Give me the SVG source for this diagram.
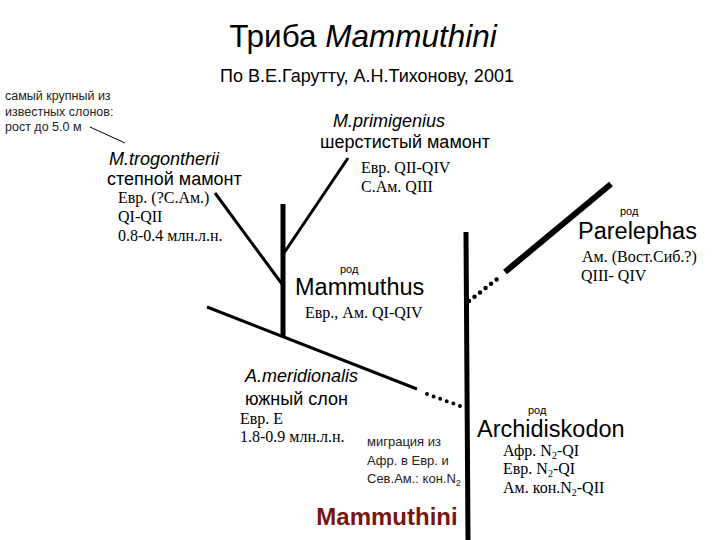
<svg xmlns="http://www.w3.org/2000/svg" width="720" height="540" viewBox="0 0 720 540">
<style>
.s{font-family:"Liberation Sans",Arial,sans-serif;fill:#000}
.g{fill:#222}
.red{fill:#7a1414;font-weight:bold}
.i{font-style:italic}
.r{font-family:"Liberation Serif","Times New Roman",serif;fill:#000;font-size:16px}
.ln{stroke:#000;fill:none;stroke-linecap:butt}
.dot{stroke:#000;fill:none;stroke-linecap:round;stroke-dasharray:0 7}
</style>
<rect width="720" height="540" fill="#fff"/>
<g id="title">
<text class="s" x="363" y="47" font-size="31.5" text-anchor="middle">Триба <tspan class="i">Mammuthini</tspan></text>
<text class="s" x="367" y="82" font-size="18" text-anchor="middle">По В.Е.Гарутту, А.Н.Тихонову, 2001</text>
</g>
<g id="connectors">
<line class="ln" x1="90" y1="127" x2="125" y2="143" stroke-width="1"/>
<line class="ln" x1="283" y1="204" x2="283" y2="337" stroke-width="5"/>
<line class="ln" x1="215" y1="193" x2="282" y2="284" stroke-width="3"/>
<line class="ln" x1="348" y1="158" x2="284" y2="253" stroke-width="3"/>
<line class="ln" x1="207" y1="307" x2="417" y2="389" stroke-width="3"/>
<line class="dot" x1="427" y1="394" x2="463" y2="407" stroke-width="4"/>
<line class="ln" x1="466" y1="232" x2="468" y2="540" stroke-width="5"/>
<line class="dot" x1="469" y1="301" x2="501" y2="276" stroke-width="4.5"/>
<line class="ln" x1="505" y1="272" x2="611" y2="184" stroke-width="6"/>
</g>
<g id="note">
<text class="s g" font-size="12.5"><tspan x="5" y="100">самый крупный из</tspan><tspan x="5" y="116">известных слонов:</tspan><tspan x="5" y="131">рост до 5.0 м</tspan></text>
</g>
<g id="trogontherii">
<text class="s i" x="109" y="165" font-size="18">M.trogontherii</text>
<text class="s" x="107" y="185" font-size="18">степной мамонт</text>
<text class="r" x="118" y="203">Евр. (?С.Ам.)</text>
<text class="r" x="118" y="222">QI-QII</text>
<text class="r" x="118" y="241">0.8-0.4 млн.л.н.</text>
</g>
<g id="primigenius">
<text class="s i" x="333" y="127" font-size="18">M.primigenius</text>
<text class="s" x="320" y="148" font-size="18">шерстистый мамонт</text>
<text class="r" x="361" y="173">Евр.  QII-QIV</text>
<text class="r" x="361" y="192">С.Ам. QIII</text>
</g>
<g id="parelephas">
<text class="s" x="620" y="215" font-size="11">род</text>
<text class="s" x="578" y="239" font-size="23.5">Parelephas</text>
<text class="r" x="582" y="262">Ам. (Вост.Сиб.?)</text>
<text class="r" x="581" y="281">QIII- QIV</text>
</g>
<g id="mammuthus">
<text class="s" x="340" y="273" font-size="11">род</text>
<text class="s" x="295" y="295" font-size="23.5">Mammuthus</text>
<text class="r" x="305" y="318">Евр., Ам. QI-QIV</text>
</g>
<g id="meridionalis">
<text class="s i" x="245" y="382" font-size="18">A.meridionalis</text>
<text class="s" x="245" y="405" font-size="18">южный слон</text>
<text class="r" x="240" y="424">Евр. Е</text>
<text class="r" x="240" y="442">1.8-0.9 млн.л.н.</text>
</g>
<g id="migration">
<text class="s g" font-size="13"><tspan x="367" y="446">миграция из</tspan><tspan x="367" y="465">Афр. в Евр. и</tspan><tspan x="367" y="483">Сев.Ам.: кон.N</tspan><tspan font-size="9" dy="3">2</tspan></text>
</g>
<g id="archidiskodon">
<text class="s" x="528" y="414" font-size="11">род</text>
<text class="s" x="477" y="437" font-size="23.5">Archidiskodon</text>
<text class="r" x="503" y="456">Афр. N<tspan font-size="10" dy="3">2</tspan><tspan dy="-3">-QI</tspan></text>
<text class="r" x="503" y="474">Евр. N<tspan font-size="10" dy="3">2</tspan><tspan dy="-3">-QI</tspan></text>
<text class="r" x="503" y="493">Ам. кон.N<tspan font-size="10" dy="3">2</tspan><tspan dy="-3">-QII</tspan></text>
</g>
<g id="mammuthini">
<text class="s red" x="387" y="525" font-size="24" text-anchor="middle">Mammuthini</text>
</g>
</svg>
